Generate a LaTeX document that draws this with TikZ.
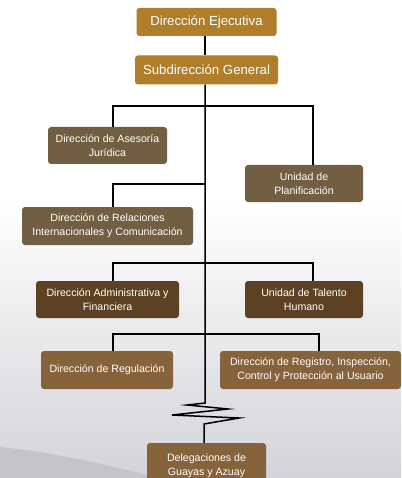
\documentclass[tikz,border=0pt]{standalone}
\usepackage{fontspec}
\setmainfont{Liberation Sans}
\usetikzlibrary{positioning,calc}
\definecolor{gold}{HTML}{B07E2B}
\definecolor{olive}{HTML}{725F42}
\definecolor{dark}{HTML}{5C4222}
\definecolor{tan}{HTML}{87633C}
\definecolor{bgray}{HTML}{D3D3D9}
\definecolor{swoosh}{HTML}{C4C4CA}
\tikzset{
  box/.style={rounded corners=3pt, text=white, align=center, inner sep=0pt},
  chief/.style={box, fill=gold, font=\fontsize{13.2}{15}\selectfont},
  dept/.style={box, font=\fontsize{10.6}{14}\selectfont},
  link/.style={line width=1.5pt, black}
}
\begin{document}
\begin{tikzpicture}[x=1pt,y=-1pt]
 \useasboundingbox (0,0) rectangle (401,478);
 \clip (0,0) rectangle (401,478);
% background
 \fill[white] (0,0) rectangle (401,200);
 \shade[top color=white, bottom color=bgray] (0,200) rectangle (401,478);
 \fill[swoosh] (0,447) .. controls (60,453) and (110,466) .. (160,478) -- (0,478) -- cycle;
% nodes
 \node[chief, minimum width=140pt, minimum height=28pt] (ejec) at (206.5,22) {Dirección Ejecutiva};
 \node[chief, minimum width=143pt, minimum height=29pt] (subd) at (206.5,70) {Subdirección General};
 \node[dept, fill=olive, minimum width=119pt, minimum height=37pt] (ases) at (107.5,145.5) {Dirección de Asesoría\\Jurídica};
 \node[dept, fill=olive, minimum width=118pt, minimum height=37pt] (plan) at (304,183.5) {Unidad de\\Planificación};
 \node[dept, fill=olive, minimum width=171pt, minimum height=38pt] (rel) at (107.5,226) {Dirección de Relaciones\\Internacionales y Comunicación};
 \node[dept, fill=dark, minimum width=143pt, minimum height=37pt] (adm) at (107.5,299.5) {Dirección Administrativa y\\Financiera};
 \node[dept, fill=dark, minimum width=118pt, minimum height=37pt] (tal) at (304,299.5) {Unidad de Talento\\Humano};
 \node[dept, fill=tan, minimum width=132pt, minimum height=38pt] (regu) at (107,370) {Dirección de Regulación};
 \node[dept, fill=tan, minimum width=181pt, minimum height=38pt] (regi) at (310.5,370) {Dirección de Registro, Inspección,\\Control y Protección al Usuario};
 \node[dept, fill=tan, minimum width=119pt, minimum height=44pt, text depth=-8pt] (dele) at (206.5,465) {Delegaciones de\\Guayas y Azuay};

% edges
 \coordinate (bar1) at (205,106);
 \coordinate (bar2) at (205,184);
 \coordinate (bar3) at (205,263);
 \coordinate (bar4) at (205,334);
 \coordinate (brk) at (205,403);
 \draw[link] (ejec.south -| brk) -- (subd.north -| brk);
 \draw[link] (subd.south -| brk) -- (brk) -- ++(-18,2) -- ++(41,4) -- ++(-56,6) -- ++(67,3) -- ++(-35,6) -- ([xshift=-2.5pt]dele.north);
 \draw[link] ([xshift=5.5pt]ases.north) |- (bar1) -| ([xshift=9pt]plan.north);
 \draw[link] (bar2) -| ([xshift=5.5pt]rel.north);
 \draw[link] ([xshift=5.5pt]adm.north) |- (bar3) -| ([xshift=9pt]tal.north);
 \draw[link] ([xshift=6pt]regu.north) |- (bar4) -| ([xshift=8.5pt]regi.north);
\end{tikzpicture}
\end{document}
